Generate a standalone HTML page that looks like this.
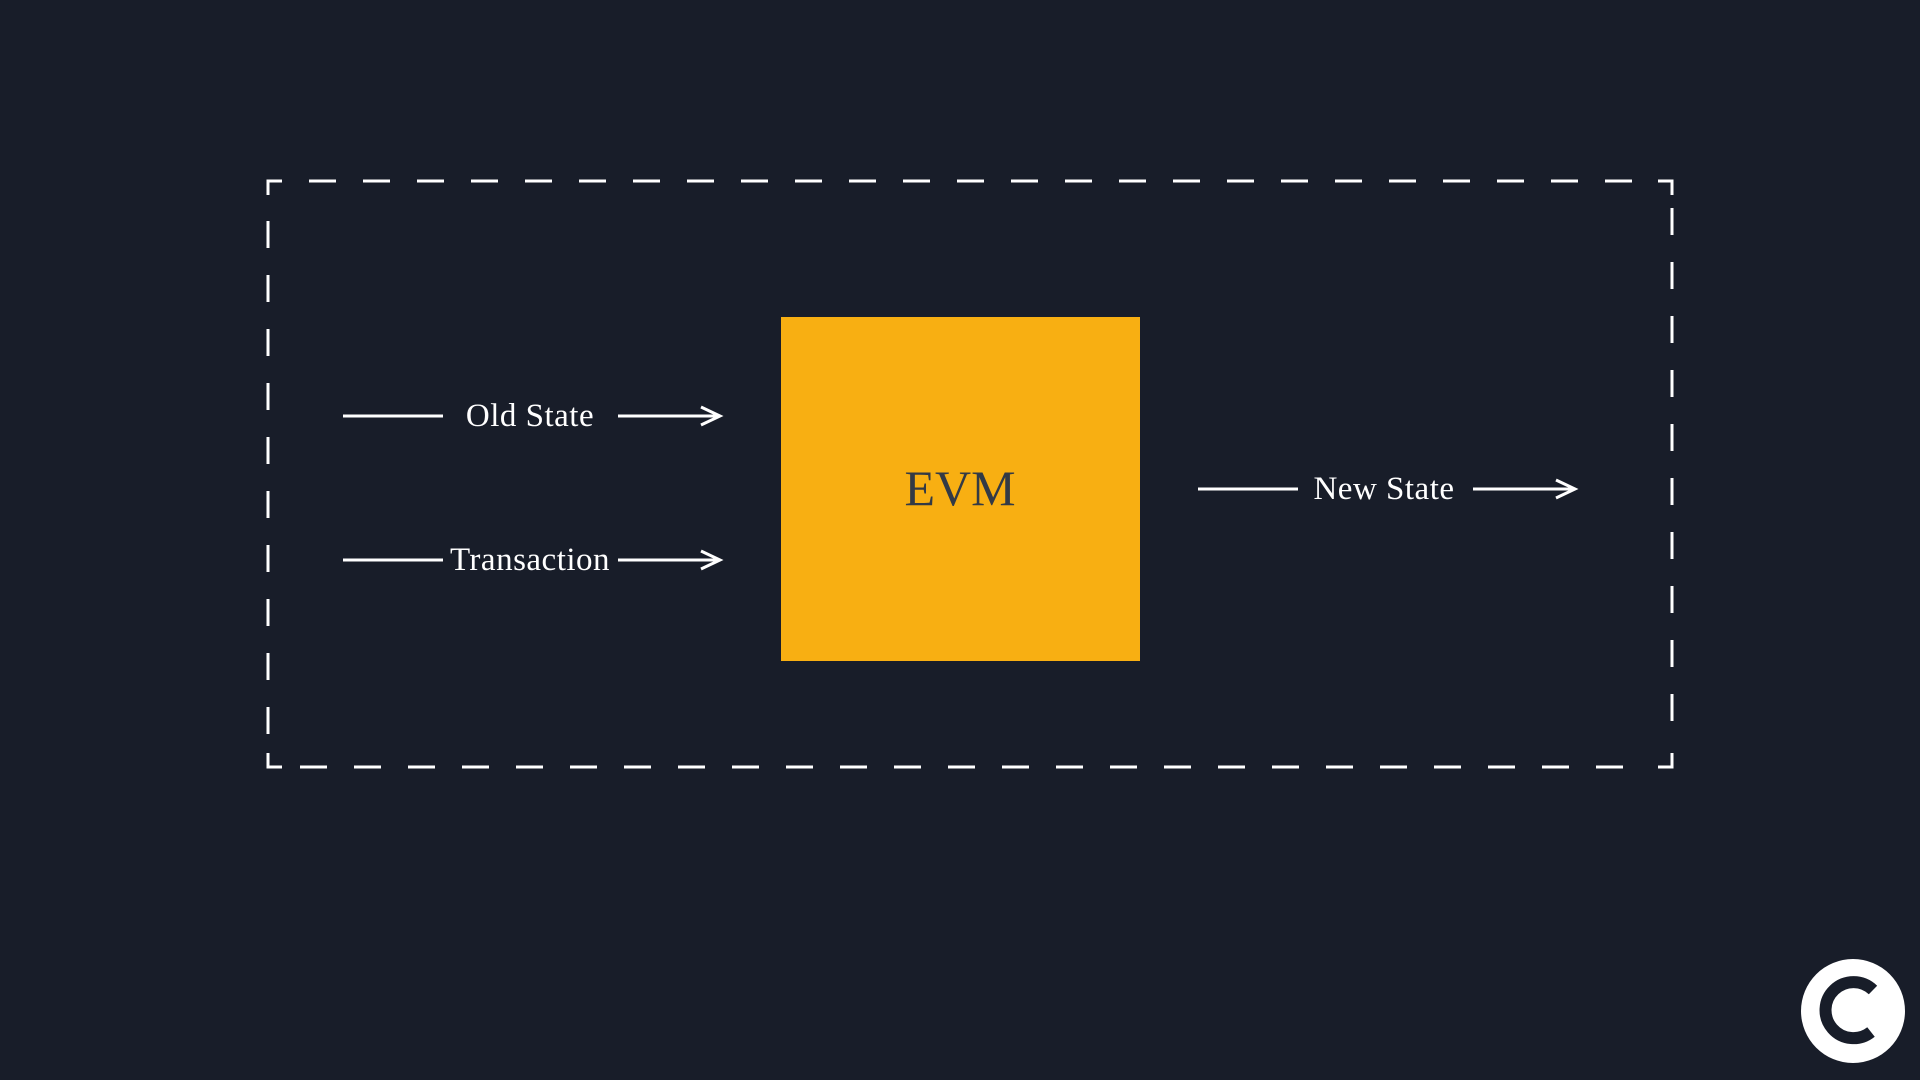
<!DOCTYPE html>
<html><head><meta charset="utf-8"><style>
html,body{margin:0;padding:0;background:#181d29;}
svg{display:block}
</style></head><body>
<svg width="1920" height="1080" viewBox="0 0 1920 1080" xmlns="http://www.w3.org/2000/svg">
<rect width="1920" height="1080" fill="#181d29"/>
<g stroke="#ffffff" stroke-width="3" fill="none">
  <line x1="309" y1="181" x2="1640" y2="181" stroke-dasharray="27 27"/>
  <line x1="300" y1="767" x2="1640" y2="767" stroke-dasharray="27 27"/>
  <line x1="268" y1="221" x2="268" y2="740" stroke-dasharray="27 27"/>
  <line x1="1672" y1="208" x2="1672" y2="740" stroke-dasharray="27 27"/>
  <polyline points="268,195 268,181 282,181"/>
  <polyline points="1658,181 1672,181 1672,195"/>
  <polyline points="268,753 268,767 282,767"/>
  <polyline points="1658,767 1672,767 1672,753"/>
  <line x1="343" y1="416" x2="443" y2="416"/>
  <line x1="618" y1="416" x2="720" y2="416"/>
  <polyline points="701,407 720,416 701,425"/>
  <line x1="343" y1="560" x2="443" y2="560"/>
  <line x1="618" y1="560" x2="720" y2="560"/>
  <polyline points="701,551 720,560 701,569"/>
  <line x1="1198" y1="489" x2="1298" y2="489"/>
  <line x1="1473" y1="489" x2="1575" y2="489"/>
  <polyline points="1556,480 1575,489 1556,498"/>
</g>
<g font-family="'Liberation Serif', serif" fill="#ffffff" font-size="33" letter-spacing="0.5" text-anchor="middle">
  <text x="530" y="426">Old State</text>
  <text x="530" y="570">Transaction</text>
  <text x="1384" y="499">New State</text>
</g>
<rect x="781" y="317" width="359" height="344" fill="#f8af12"/>
<text x="960" y="505" font-family="'Liberation Serif', serif" font-size="50" fill="#333a45" text-anchor="middle">EVM</text>
<circle cx="1853" cy="1011" r="52" fill="#ffffff"/>
<path d="M1873,990 A28,28 0 1 0 1871,1032" stroke="#181d29" stroke-width="12" fill="none"/>
</svg>
</body></html>
